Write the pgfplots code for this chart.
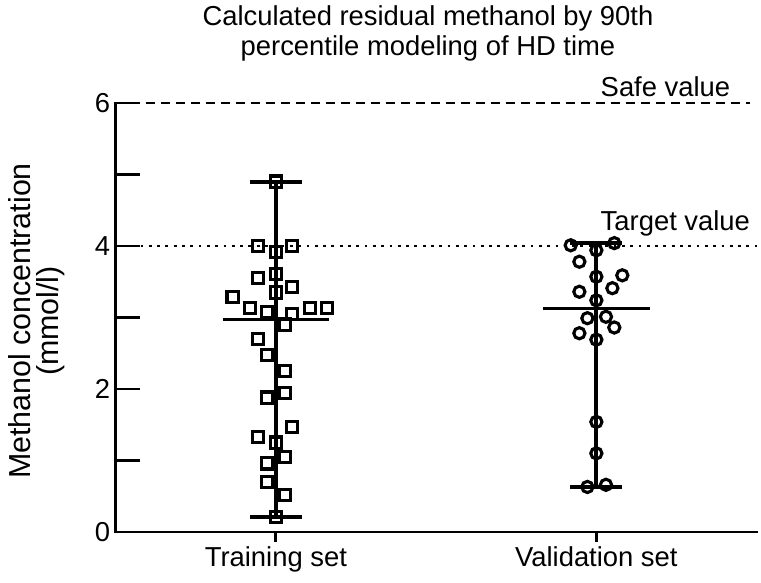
\documentclass[border=0pt]{standalone}
\usepackage{fontspec}
\setmainfont{Liberation Sans}
\usepackage{pgfplots}
\pgfplotsset{compat=1.18}

\begin{document}
\begin{tikzpicture}[x=1bp,y=1bp]
\useasboundingbox (0,0) rectangle (761,583);
\begin{axis}[
  at={(115.6bp,51bp)}, anchor=south west,
  scale only axis, width=641bp, height=429bp,
  xmin=-0.5, xmax=1.5, ymin=0, ymax=6,
  clip=false,
  axis x line*=bottom, axis y line*=left,
  axis line style={line width=2.8bp, line cap=rect},
  tick align=inside,
  major tick length=24bp, minor tick length=24bp,
  ytick={0,2,4,6}, minor ytick={1,3,5},
  tick style={line width=2.8bp, black},
  xtick={0,1}, xticklabels={Training set, Validation set},
  x tick style={draw=none},
  xticklabel style={yshift=-11bp},
  /pgf/number format/assume math mode=true,
  ticklabel style={font=\fontsize{27.5}{27.5}\selectfont},
  yticklabel style={xshift=-2bp},
]
% reference lines
\addplot[black, line width=2.8bp, dash pattern=on 9bp off 6bp] coordinates {(-0.5,6) (1.48,6)};
\addplot[black, line width=2.8bp, dash pattern=on 2.8bp off 5.5bp, line cap=butt] coordinates {(-0.5,4) (1.5,4)};

% Training set points
\addplot[only marks, mark=square, mark size=5.6bp, mark options={line width=3.1bp, black}] coordinates {
(0,4.90) (-0.056,4.00) (0.05,4.00) (0,3.92) (0,3.61) (-0.056,3.55) (0.05,3.43) (0,3.35)
(-0.135,3.29) (-0.081,3.13) (-0.028,3.08) (0.05,3.05) (0.106,3.13) (0.159,3.13) (0.028,2.90)
(-0.056,2.70) (-0.028,2.48) (0.028,2.25) (-0.028,1.88) (0.028,1.94) (0.05,1.47) (-0.056,1.33)
(0,1.25) (0.028,1.05) (-0.028,0.96) (-0.028,0.70) (0.028,0.52) (0,0.21)
};
% Validation set points
\addplot[only marks, mark=o, mark size=5.6bp, mark options={line width=3.1bp, black}] coordinates {
(0.92,4.01) (1.056,4.04) (1,3.94) (0.947,3.78) (1,3.57) (1.081,3.59) (1.05,3.41) (0.947,3.36)
(1,3.24) (0.972,2.99) (1.03,3.01) (1.056,2.86) (0.947,2.78) (1,2.69) (1,1.54) (1,1.10)
(0.972,0.63) (1.03,0.66)
};

% Training: range, caps, median
\addplot[black, line width=4.2bp] coordinates {(0,0.21) (0,4.90)};
\addplot[black, line width=4.2bp] coordinates {(-0.081,4.90) (0.081,4.90)};
\addplot[black, line width=4.2bp] coordinates {(-0.081,0.21) (0.081,0.21)};
\addplot[black, line width=3bp] coordinates {(-0.166,2.97) (0.166,2.97)};
% Validation: range, caps, median
\addplot[black, line width=4.2bp] coordinates {(1,0.63) (1,4.04)};
\addplot[black, line width=4.2bp] coordinates {(0.919,4.04) (1.081,4.04)};
\addplot[black, line width=4.2bp] coordinates {(0.919,0.63) (1.081,0.63)};
\addplot[black, line width=3bp] coordinates {(0.834,3.12) (1.166,3.12)};

% x ticks (outward)
\draw[line width=2.8bp] (axis cs:0,0) -- ([yshift=-10bp]axis cs:0,0);
\draw[line width=2.8bp] (axis cs:1,0) -- ([yshift=-10bp]axis cs:1,0);

\node[anchor=base west, font=\fontsize{27.5}{27.5}\selectfont, inner sep=0pt] at (axis cs:1.013,6.09) {Safe value};
\node[anchor=base west, font=\fontsize{27.5}{27.5}\selectfont, inner sep=0pt] at (axis cs:1.013,4.22) {Target value};
\end{axis}
\node[align=center, font=\fontsize{27.5}{30}\selectfont] at (428,550) {Calculated residual methanol by 90th\\percentile modeling of HD time};
\node[align=center, rotate=90, font=\fontsize{30.5}{28}\selectfont] at (37,262) {Methanol concentration\\(mmol/l)};
\end{tikzpicture}
\end{document}
